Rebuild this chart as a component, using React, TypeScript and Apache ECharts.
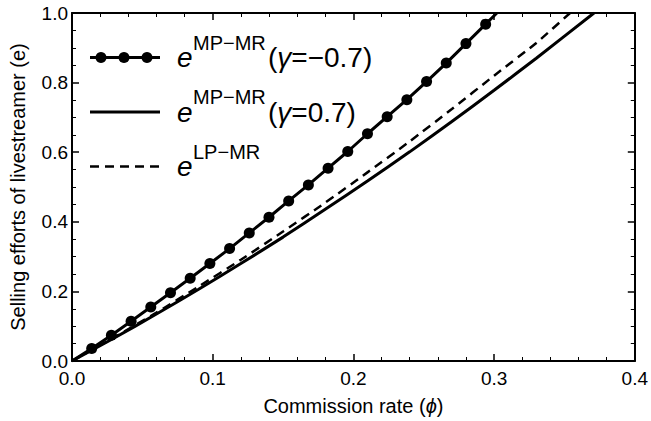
import React, { useEffect, useRef } from "react";
import * as echarts from "echarts";

// Commission rate (x) where markers of the γ=-0.7 curve sit
const dotPhi = [0, 0.014, 0.028, 0.042, 0.056, 0.07, 0.084, 0.098, 0.112, 0.126, 0.14, 0.154, 0.168, 0.182, 0.196, 0.21, 0.224, 0.238, 0.252, 0.266, 0.28, 0.294, 0.302];
const dotEffort = [0, 0.036, 0.074, 0.114, 0.155, 0.196, 0.238, 0.28, 0.323, 0.368, 0.413, 0.46, 0.506, 0.554, 0.602, 0.653, 0.702, 0.751, 0.803, 0.856, 0.912, 0.968, 1.0];

// γ = 0.7 solid curve
const solidPhi = [0, 0.03, 0.06, 0.09, 0.12, 0.15, 0.18, 0.21, 0.24, 0.27, 0.3, 0.33, 0.371];
const solidEffort = [0, 0.066, 0.135, 0.206, 0.28, 0.356, 0.436, 0.517, 0.601, 0.688, 0.778, 0.87, 1.0];

// LP-MR dashed curve
const dashPhi = [0, 0.03, 0.06, 0.09, 0.12, 0.15, 0.18, 0.21, 0.24, 0.27, 0.3, 0.33, 0.354];
const dashEffort = [0, 0.068, 0.139, 0.214, 0.291, 0.372, 0.455, 0.542, 0.631, 0.724, 0.82, 0.914, 1.0];

const xTicks = [0, 0.1, 0.2, 0.3, 0.4];
const yTicks = [0, 0.2, 0.4, 0.6, 0.8, 1.0];

const FONT = "'Liberation Sans', Arial, sans-serif";

export default function App() {
  const ref = useRef<HTMLDivElement>(null);
  useEffect(() => {
    if (!ref.current) return;
    const chart = echarts.init(ref.current, undefined, { renderer: "svg" });

    const axisCommon = {
      type: "value" as const,
      axisLine: { show: true, onZero: false, lineStyle: { color: "#000", width: 2 } },
      axisTick: { show: true, inside: true, length: 7, lineStyle: { color: "#000", width: 1.5 } },
      minorTick: { show: true, length: 4, lineStyle: { color: "#000", width: 1 } },
      splitLine: { show: false },
      minorSplitLine: { show: false },
    };

    const dotData = dotPhi.map((x, i) => {
      const v = [x, dotEffort[i]];
      if (i === 0 || i === dotPhi.length - 1) return { value: v, symbol: "none" };
      return { value: v };
    });

    const legendRows = [
      { y: 57.5, sup: "MP\u2212MR", tail: "(", g: "\u03b3", rest: "=\u22120.7)", kind: "dots" },
      { y: 112, sup: "MP\u2212MR", tail: "(", g: "\u03b3", rest: "=0.7)", kind: "solid" },
      { y: 166.5, sup: "LP\u2212MR", tail: "", g: "", rest: "", kind: "dash" },
    ];

    const graphics: any[] = [];
    legendRows.forEach((r) => {
      graphics.push({
        type: "line",
        shape: { x1: 90, y1: r.y, x2: 160, y2: r.y },
        style: { stroke: "#000", lineWidth: r.kind === "dash" ? 2.5 : 3, lineDash: r.kind === "dash" ? [9, 6] : null },
      });
      if (r.kind === "dots") {
        [101, 124, 147].forEach((cx) =>
          graphics.push({ type: "circle", shape: { cx, cy: r.y, r: 5.5 }, style: { fill: "#000" } })
        );
      }
      graphics.push({
        type: "text",
        x: 177,
        y: r.y,
        style: { text: "e", font: `italic 28px ${FONT}`, fill: "#000", verticalAlign: "middle", align: "left" },
      });
      graphics.push({
        type: "text",
        x: 193,
        y: r.y - 15,
        style: { text: r.sup, font: `20px ${FONT}`, fill: "#000", verticalAlign: "middle", align: "left" },
      });
      if (r.tail) {
        graphics.push({
          type: "text",
          x: 268,
          y: r.y,
          style: {
            text: `{a|${r.tail}}{g|${r.g}}{a|${r.rest}}`,
            verticalAlign: "middle",
            align: "left",
            rich: {
              a: { fontSize: 28, fontFamily: FONT, color: "#000" },
              g: { fontSize: 28, fontFamily: FONT, fontStyle: "italic", color: "#000" },
            },
          },
        });
      }
    });

    chart.setOption({
      animation: false,
      backgroundColor: "#fff",
      textStyle: { fontFamily: FONT },
      grid: { left: 63, right: 14, top: 13, bottom: 54, containLabel: false },
      xAxis: [
        {
          ...axisCommon,
          min: 0,
          max: 0.4,
          interval: 0.1,
          position: "bottom",
          minorTick: { ...axisCommon.minorTick, splitNumber: 5 },
          axisLabel: {
            color: "#000",
            fontSize: 19,
            margin: 8,
            fontFamily: FONT,
            formatter: (v: number) => (xTicks.some((t) => Math.abs(t - v) < 1e-9) ? v.toFixed(1) : ""),
          },
          name: "{n|Commission rate (}{i|\u03d5}{n|)}",
          nameLocation: "middle",
          nameGap: 35,
          nameTextStyle: {
            rich: {
              n: { fontSize: 20, fontFamily: FONT, color: "#000" },
              i: { fontSize: 20, fontFamily: FONT, fontStyle: "italic", color: "#000" },
            },
          },
        },
        {
          ...axisCommon,
          min: 0,
          max: 0.4,
          interval: 0.1,
          position: "top",
          minorTick: { ...axisCommon.minorTick, splitNumber: 5 },
          axisLabel: { show: false },
        },
      ],
      yAxis: [
        {
          ...axisCommon,
          min: 0,
          max: 1,
          interval: 0.2,
          position: "left",
          minorTick: { ...axisCommon.minorTick, splitNumber: 4 },
          axisLabel: {
            color: "#000",
            fontSize: 19,
            margin: 4,
            fontFamily: FONT,
            formatter: (v: number) => (yTicks.some((t) => Math.abs(t - v) < 1e-9) ? v.toFixed(1) : ""),
          },
          name: "Selling efforts of livestreamer (e)",
          nameLocation: "middle",
          nameGap: 44,
          nameTextStyle: { fontSize: 20, fontFamily: FONT, color: "#000" },
        },
        {
          ...axisCommon,
          min: 0,
          max: 1,
          interval: 0.2,
          position: "right",
          minorTick: { ...axisCommon.minorTick, splitNumber: 4 },
          axisLabel: { show: false },
        },
      ],
      series: [
        {
          type: "line",
          data: solidPhi.map((x, i) => [x, solidEffort[i]]),
          smooth: 0.2,
          showSymbol: false,
          symbol: "none",
          clip: true,
          lineStyle: { color: "#000", width: 3 },
        },
        {
          type: "line",
          data: dashPhi.map((x, i) => [x, dashEffort[i]]),
          smooth: 0.2,
          symbol: "none",
          clip: true,
          lineStyle: { color: "#000", width: 2.5, type: [9, 6] },
        },
        {
          type: "line",
          data: dotData,
          symbol: "circle",
          symbolSize: 11,
          showAllSymbol: true,
          clip: true,
          itemStyle: { color: "#000" },
          lineStyle: { color: "#000", width: 3 },
        },
      ],
      graphic: graphics,
    });
    return () => chart.dispose();
  }, []);
  return <div ref={ref} style={{ position: "fixed", left: 0, top: 0, width: 651, height: 421 }} />;
}
